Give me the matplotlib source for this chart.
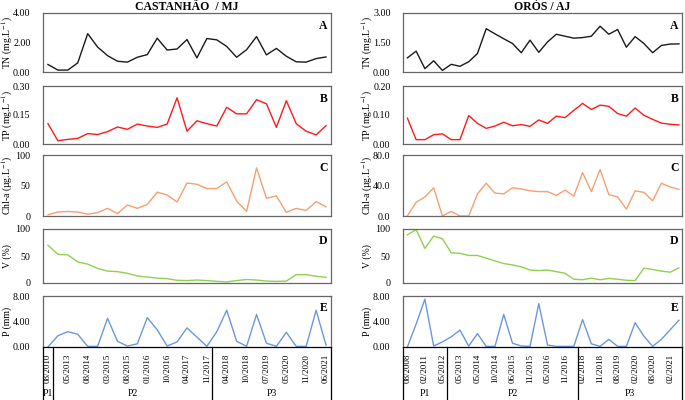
import matplotlib
matplotlib.use("Agg")
from matplotlib import pyplot as plt
from matplotlib import transforms
import numpy as np

plt.rcParams['font.family'] = ['Liberation Serif', 'DejaVu Serif']
plt.rcParams['mathtext.fontset'] = 'stix'

# ---- Castanhao / MJ (left) ----
cas_dates = ["08/2010", "05/2013", "08/2014", "03/2015", "08/2015", "01/2016", "10/2016",
             "04/2017", "11/2017", "04/2018", "10/2018", "07/2019", "05/2020", "11/2020", "06/2021"]
cas_tn = [0.51, 0.13, 0.13, 0.62, 2.6, 1.69, 1.11, 0.73, 0.67, 1.0, 1.18, 2.29, 1.49, 1.56, 2.2,
          0.96, 2.27, 2.18, 1.73, 1.0, 1.51, 2.4, 1.16, 1.6, 1.07, 0.69, 0.67, 0.91, 1.02]
cas_tp = [0.105, 0.017, 0.024, 0.029, 0.054, 0.049, 0.064, 0.088, 0.076, 0.103, 0.093, 0.086,
          0.103, 0.239, 0.066, 0.12, 0.105, 0.093, 0.19, 0.156, 0.156, 0.229, 0.208, 0.086,
          0.224, 0.105, 0.066, 0.047, 0.095]
cas_chla = [2, 6.5, 7.5, 6.5, 3, 5.5, 12.5, 4, 18, 12.5, 19, 39, 34.5, 23, 54, 52, 45, 45, 56,
            24.5, 7.5, 79, 29, 33, 6, 12.5, 9, 23.5, 15]
cas_v = [70, 53, 52, 39, 35, 27, 22, 21, 18, 13, 11, 9, 8, 5, 4.5, 5.5, 4.5, 3, 2, 4.5, 6.5,
         5.5, 3.5, 3, 3.5, 15.5, 15.5, 12.5, 10.5]
cas_p = [0, 1.77, 2.4, 2.0, 0.1, 0.1, 4.5, 0.9, 0.15, 0.5, 4.6, 2.7, 0.15, 0.8, 3.0, 1.55,
         0.1, 2.4, 5.77, 0.9, 0.1, 5.1, 0.6, 0.1, 2.3, 0.1, 0.1, 5.77, 0.3]

# ---- Oros / AJ (right) ----
oro_dates = ["08/2008", "02/2011", "05/2012", "05/2013", "05/2014", "10/2014", "06/2015", "11/2015",
             "05/2016", "11/2016", "02/2018", "11/2018", "08/2019", "02/2020", "08/2020", "02/2021"]
oro_tn = [0.72, 1.06, 0.17, 0.57, 0.08, 0.39, 0.29, 0.52, 0.94, 2.2, 1.94, 1.69, 1.45, 0.98,
          1.62, 1.0, 1.53, 1.92, 1.82, 1.72, 1.75, 1.82, 2.33, 1.92, 2.16, 1.26, 1.8, 1.45,
          0.98, 1.35, 1.42, 1.43]
oro_tp = [0.089, 0.015, 0.015, 0.032, 0.035, 0.015, 0.015, 0.098, 0.071, 0.054, 0.062, 0.075,
          0.063, 0.067, 0.061, 0.083, 0.071, 0.096, 0.091, 0.116, 0.14, 0.119, 0.134, 0.13,
          0.105, 0.096, 0.124, 0.099, 0.085, 0.072, 0.068, 0.066]
oro_chla = [0, 18, 25, 37, 0, 6, 0, 0, 29, 43, 30, 29, 37, 35.5, 33, 32, 32, 27, 34, 26, 57,
            32, 61, 28, 25, 9, 33, 31, 20, 43, 38, 35]
oro_v = [89, 99, 64, 87, 82, 56, 55, 51, 51, 46, 41, 36, 33.5, 30, 24, 23, 24, 21, 18, 7, 6,
         9, 6, 8.5, 7, 5, 4.5, 27.5, 25, 22, 20, 28]
oro_p = [0, 3.6, 7.5, 0.15, 0.8, 1.6, 2.65, 0.15, 2.1, 0.1, 0.1, 5.1, 0.6, 0.15, 0.1, 6.8,
         0.3, 0.1, 0.1, 0.1, 4.3, 0.5, 0.1, 1.2, 0.1, 0.1, 3.8, 1.7, 0.1, 1.2, 2.7, 4.2]

colors = ['#1a1a1a', '#ff1a1a', '#f5a06e', '#8fd14f', '#6a98dc']
letters = ['A', 'B', 'C', 'D', 'E']
ylabels = ['TN (mg.L$^{-1}$)', 'TP (mg.L$^{-1}$)', 'Chl-a (\u00b5g.L$^{-1}$)', 'V (%)', 'P (mm)']

# panel rows in pixels from top (top, bottom)
rows = [(13, 72), (86, 144), (155, 216), (229, 283), (296, 347)]
W, H = 685.0, 400.0

fig = plt.figure(figsize=(6.85, 4.0), dpi=100)


def make_column(x0, x1, series, yticks, yfmt, dates, periods, title, xr, lab_px, ypad):
    n = len(series[0])
    lab_x = (lab_px - x0) / float(x1 - x0)
    for k in range(5):
        top, bot = rows[k]
        ax = fig.add_axes([x0 / W, 1 - bot / H, (x1 - x0) / W, (bot - top) / H])
        ax.plot(np.arange(n), series[k], color=colors[k], lw=1.0)
        ax.set_xlim(-0.5, n - 1 + xr)
        ax.set_ylim(yticks[k][0], yticks[k][-1])
        ax.set_yticks(yticks[k])
        ax.set_yticklabels([yfmt[k] % v for v in yticks[k]], fontsize=7.2)
        ax.tick_params(length=0, pad=ypad)
        for s in ax.spines.values():
            s.set_color('#666666')
            s.set_linewidth(0.9)
        ax.set_ylabel(ylabels[k], fontsize=7, va='center')
        ax.yaxis.set_label_coords(lab_x, 0.5)
        ax.text(0.988, 0.88, letters[k], transform=ax.transAxes, ha='right', va='top',
                fontsize=8.5, fontweight='bold')
        if k == 0:
            ax.set_title(title, fontsize=8.5, fontweight='bold', pad=1)
        if k < 4:
            ax.set_xticks([])
        else:
            ax.spines['bottom'].set_color('black')
            ax.set_xticks(np.arange(0, n, 2))
            ax.set_xticklabels(dates, rotation=90, fontsize=6.5)
            ax.tick_params(axis='x', pad=5)
            tr = transforms.blended_transform_factory(ax.transData, fig.transFigure)
            xl = ax.get_xlim()
            edges = [xl[0]] + [p[1] for p in periods[:-1]] + [xl[1]]
            for e in edges:
                ax.plot([e, e], [1 - bot / H, 0], color='black', lw=0.9,
                        transform=tr, clip_on=False)
            for i, p in enumerate(periods):
                ax.text((edges[i] + edges[i + 1]) / 2, 0.005, p[2], transform=tr,
                        ha='center', va='bottom', fontsize=7)


make_column(43, 331, [cas_tn, cas_tp, cas_chla, cas_v, cas_p],
            [[0, 2, 4], [0, 0.15, 0.30], [0, 50, 100], [0, 50, 100], [0, 4, 8]],
            ['%.2f', '%.2f', '%d', '%d', '%.2f'], cas_dates,
            [(0, 0.5, 'P1'), (0.5, 16.5, 'P2'), (16.5, 28.5, 'P3')],
            'CASTANH\u00c3O  / MJ', 0.5, 7.5, 9)

make_column(403, 682, [oro_tn, oro_tp, oro_chla, oro_v, oro_p],
            [[0, 1.5, 3], [0, 0.10, 0.20], [0, 40, 80], [0, 50, 100], [0, 4, 8]],
            ['%.2f', '%.2f', '%.1f', '%d', '%.2f'], oro_dates,
            [(0, 4.5, 'P1'), (4.5, 19.5, 'P2'), (19.5, 31.4, 'P3')],
            'OR\u00d3S / AJ', 0.35, 367, 9)

fig.savefig('out.png', dpi=100)
